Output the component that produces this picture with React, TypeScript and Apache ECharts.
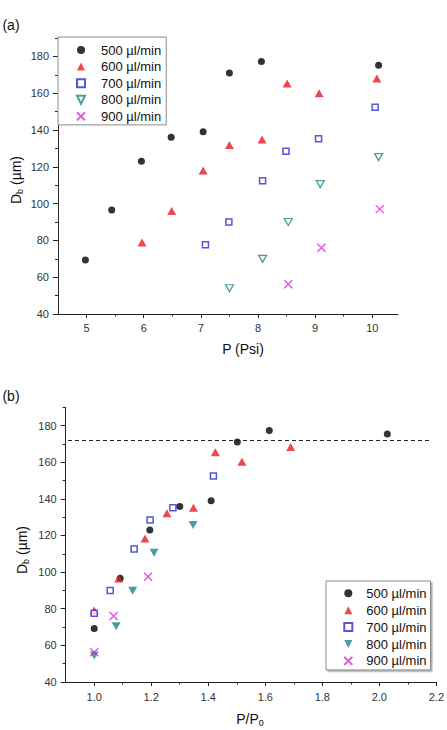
import React, { useEffect, useRef } from "react";
import * as echarts from "echarts";

const FONT = '"Liberation Sans", Arial, Helvetica, sans-serif';

const seriesNames = ["500 µl/min", "600 µl/min", "700 µl/min", "800 µl/min", "900 µl/min"];

// Panel (a): pressure P (Psi) vs bubble diameter Db (µm)
const pA500 = [4.98, 5.44, 5.96, 6.48, 7.04, 7.5, 8.06, 10.11];
const dA500 = [69.4, 96.5, 123, 136, 139, 171, 177.2, 175.2];
const pA600 = [5.97, 6.49, 7.04, 7.5, 8.07, 8.51, 9.07, 10.08];
const dA600 = [78.9, 96, 118, 131.9, 134.8, 165.3, 160, 168];
const pA700 = [7.08, 7.49, 8.08, 8.49, 9.06, 10.05];
const dA700 = [77.6, 90, 112.4, 128.5, 135.2, 152.4];
const pA800 = [7.5, 8.08, 8.53, 9.09, 10.11];
const dA800 = [54, 70, 90, 110.6, 125.3];
const pA900 = [8.53, 9.11, 10.13];
const dA900 = [56.2, 76, 97];

// Panel (b): normalised pressure P/P0 vs Db (µm)
const rB500 = [1.0, 1.091, 1.195, 1.3, 1.41, 1.502, 1.614, 2.028];
const dB500 = [69.2, 96.7, 123, 135.9, 139, 171, 177.3, 175.4];
const rB600 = [1.0, 1.086, 1.178, 1.255, 1.348, 1.425, 1.518, 1.689];
const dB600 = [79, 96.5, 118.3, 132.2, 135.1, 165.4, 160.3, 168.3];
const rB700 = [1.0, 1.056, 1.14, 1.196, 1.276, 1.418];
const dB700 = [77.6, 90, 112.6, 128.4, 135.2, 152.5];
const rB800 = [1.0, 1.077, 1.135, 1.21, 1.347];
const dB800 = [54.5, 70.4, 89.8, 110.6, 125.7];
const rB900 = [1.0, 1.068, 1.189];
const dB900 = [56.3, 76, 97.5];
const plateau = 172;
const plateauRange = [0.908, 2.183];

// Axis ticks
const yTicks = [40, 60, 80, 100, 120, 140, 160, 180];
const yMinor = [50, 70, 90, 110, 130, 150, 170, 190];
const xTicksA = [5, 6, 7, 8, 9, 10];
const xMinorA = [5.5, 6.5, 7.5, 8.5, 9.5];
const xTicksB = [1.0, 1.2, 1.4, 1.6, 1.8, 2.0, 2.2];
const xMinorB = [1.1, 1.3, 1.5, 1.7, 1.9, 2.1];

const RED = "#ea1a22";
const BLUE = "#2a2ad0";
const TEAL = "#1f8585";
const MAG = "#e024e0";

const CIRCLE = "path://M5,0A5,5,0,1,1,5,10A5,5,0,1,1,5,0Z";
const TRI_UP = "path://M5,0L10,9L0,9Z";
const SQUARE = "path://M0,0L10,0L10,10L0,10Z";
const TRI_DOWN = "path://M0,0L10,0L5,9Z";
const XPATH = "path://M0,0L10,10M10,0L0,10";

function zip(xs: number[], ys: number[]) {
  return xs.map((x, i) => [x, ys[i]]);
}

function symbolStyles(filledDown: boolean) {
  return [
    { symbol: CIRCLE, symbolSize: 7, itemStyle: { color: "#000" } },
    { symbol: TRI_UP, symbolSize: [9, 8], itemStyle: { color: RED } },
    { symbol: SQUARE, symbolSize: 6, itemStyle: { color: "#fff", borderColor: BLUE, borderWidth: 1.5 } },
    filledDown
      ? { symbol: TRI_DOWN, symbolSize: [9, 8], itemStyle: { color: TEAL } }
      : { symbol: TRI_DOWN, symbolSize: [8, 7], itemStyle: { color: "#fff", borderColor: TEAL, borderWidth: 1.3 } },
    { symbol: XPATH, symbolSize: 8, itemStyle: { color: MAG, borderColor: MAG, borderWidth: 1.4 } },
  ];
}

const axisLineStyle = { show: true, lineStyle: { color: "#222", width: 1 } };
const labelStyle = { fontSize: 11, color: "#333", fontFamily: FONT };

function buildOption(p: {
  grid: any;
  xMin: number;
  xMax: number;
  xTicks: number[];
  xMinor: number[];
  xFmt: (v: number) => string;
  xMargin: number;
  data: number[][][];
  filledDown: boolean;
  legend: any;
  graphic: any[];
  markLine?: any;
}) {
  const styles = symbolStyles(p.filledDown);
  return {
    animation: false,
    graphic: p.graphic,
    grid: p.grid,
    legend: p.legend,
    xAxis: [
      {
        type: "value", min: p.xMin, max: p.xMax, position: "bottom",
        axisLine: axisLineStyle,
        axisTick: { show: true, inside: false, length: 4, customValues: p.xTicks, lineStyle: { color: "#222" } },
        axisLabel: { ...labelStyle, margin: p.xMargin, customValues: p.xTicks, formatter: p.xFmt },
        splitLine: { show: false },
      },
      {
        type: "value", min: p.xMin, max: p.xMax, position: "bottom",
        axisLine: { show: false },
        axisTick: { show: true, inside: false, length: 2.5, customValues: p.xMinor, lineStyle: { color: "#222" } },
        axisLabel: { show: false },
        splitLine: { show: false },
      },
    ],
    yAxis: [
      {
        type: "value", min: 40, max: 190, position: "left",
        axisLine: axisLineStyle,
        axisTick: { show: true, inside: false, length: 5, customValues: yTicks, lineStyle: { color: "#222" } },
        axisLabel: { ...labelStyle, margin: 9, customValues: yTicks },
        splitLine: { show: false },
      },
      {
        type: "value", min: 40, max: 190, position: "left",
        axisLine: { show: false },
        axisTick: { show: true, inside: false, length: 3, customValues: yMinor, lineStyle: { color: "#222" } },
        axisLabel: { show: false },
        splitLine: { show: false },
      },
    ],
    series: p.data.map((d, i) => ({
      type: "scatter",
      name: seriesNames[i],
      xAxisIndex: 0,
      yAxisIndex: 0,
      data: d,
      ...styles[i],
      emphasis: { disabled: true },
      ...(i === 0 && p.markLine ? { markLine: p.markLine } : {}),
    })),
  };
}

function legendCfg(left: number, top: number, padding: number[], gap: number, textGap: number, shadow: boolean) {
  return {
    show: true,
    orient: "vertical",
    left,
    top,
    itemWidth: 8,
    itemHeight: 8,
    itemGap: gap,
    padding,
    symbolKeepAspect: false,
    selectedMode: false,
    backgroundColor: "#fff",
    borderColor: "#8a8a8a",
    borderWidth: 1,
    ...(shadow ? { shadowColor: "rgba(0,0,0,0.35)", shadowBlur: 1, shadowOffsetX: 1.5, shadowOffsetY: 1.5 } : {}),
    textStyle: { fontSize: 13, color: "#111", fontFamily: FONT, lineHeight: 15, padding: [0, 0, 0, textGap] },
    data: seriesNames,
  };
}

function txt(x: number, y: number, text: string, extra: any = {}) {
  return {
    type: "text",
    x,
    y,
    ...extra,
    style: {
      text,
      fontSize: 14,
      fontFamily: FONT,
      fill: "#111",
      align: "center",
      verticalAlign: "middle",
      rich: {
        m: { fontSize: 14, fontFamily: FONT, fill: "#111", color: "#111" },
        s: { fontSize: 9, fontFamily: FONT, fill: "#111", color: "#111", padding: [7, 0, 0, 0] },
      },
    },
  };
}

const optionA = buildOption({
  grid: { left: 58, top: 38, width: 340, height: 276 },
  xMin: 4.5,
  xMax: 10.45,
  xTicks: xTicksA,
  xMinor: xMinorA,
  xFmt: (v: number) => String(v),
  xMargin: 8,
  data: [zip(pA500, dA500), zip(pA600, dA600), zip(pA700, dA700), zip(pA800, dA800), zip(pA900, dA900)],
  filledDown: false,
  legend: legendCfg(58, 37, [5.5, 5, 1, 18], 1.6, 11, false),
  graphic: [
    txt(11, 25, "(a)"),
    txt(243, 349, "P (Psi)"),
    txt(16, 180, "{m|D}{s|b}{m| (µm)}", { rotation: Math.PI / 2 }),
  ],
});

const optionB = buildOption({
  grid: { left: 65.7, top: 42.3, width: 371, height: 274.7 },
  xMin: 0.9,
  xMax: 2.2,
  xTicks: xTicksB,
  xMinor: xMinorB,
  xFmt: (v: number) => v.toFixed(1),
  xMargin: 9,
  data: [zip(rB500, dB500), zip(rB600, dB600), zip(rB700, dB700), zip(rB800, dB800), zip(rB900, dB900)],
  filledDown: true,
  legend: legendCfg(326, 216, [4.8, 4, 1.5, 17.3], 1.9, 9, true),
  markLine: {
    silent: true,
    symbol: "none",
    label: { show: false },
    lineStyle: { color: "#222", width: 1, type: [4, 3] },
    data: [[{ coord: [plateauRange[0], plateau] }, { coord: [plateauRange[1], plateau] }]],
  },
  graphic: [
    txt(11, 31, "(b)"),
    txt(250, 354, "{m|P/P}{s|0}"),
    txt(22, 185, "{m|D}{s|b}{m| (µm)}", { rotation: Math.PI / 2 }),
  ],
});

function Chart({ option, top }: { option: any; top: number }) {
  const ref = useRef<HTMLDivElement>(null);
  useEffect(() => {
    const c = echarts.init(ref.current!, null, { renderer: "svg" });
    c.setOption(option);
    return () => c.dispose();
  }, []);
  return <div ref={ref} style={{ position: "absolute", left: 0, top, width: 447, height: 365 }} />;
}

export default function App() {
  return (
    <div style={{ position: "absolute", left: 0, top: 0, width: 447, height: 730, overflow: "hidden" }}>
      <Chart option={optionA} top={0} />
      <Chart option={optionB} top={365} />
    </div>
  );
}
